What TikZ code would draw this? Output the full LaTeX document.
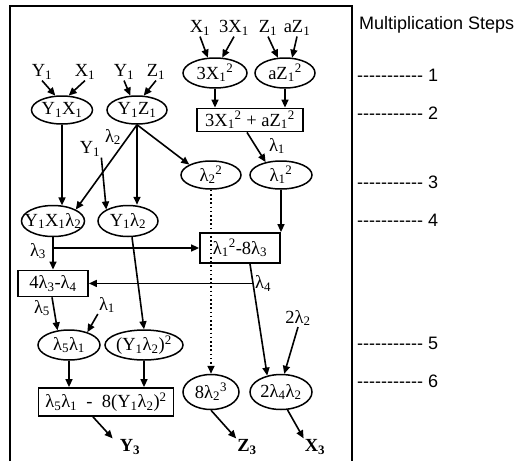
\documentclass[tikz,border=0pt]{standalone}
\usepackage{fontspec}
\setmainfont{Liberation Serif}
\newfontfamily\stepfont{Liberation Sans}
\usetikzlibrary{shapes.geometric,arrows.meta,calc}
\newcommand\mysb[1]{\textsubscript{#1}}
\newcommand\mysp[1]{\textsuperscript{#1}}
\newcommand\mydashes{-{}-{}-{}-{}-{}-{}-{}-{}-{}-{}-{}}
\begin{document}
\begin{tikzpicture}[x=1pt,y=-1pt,
  every node/.style={font=\fontsize{18.5}{20}\selectfont},
  ell/.style={ellipse,draw,line width=1.5pt,inner xsep=-12pt,inner ysep=-4pt,minimum height=28pt},
  bx/.style={rectangle,draw,line width=1.8pt,inner sep=2pt},
  lbl/.style={inner sep=1pt},
  stp/.style={inner sep=0pt,anchor=west,font=\stepfont\fontsize{18}{20}\selectfont},
  arr/.style={line width=1.6pt,-{Triangle[length=8pt,width=7pt]}},
  dotarr/.style={arr,dash pattern=on 1.6pt off 2.6pt}
]
\useasboundingbox (0,0) rectangle (517,461);
% frame
\draw[line width=1.5pt] (10,461) -- (10,6) -- (352,6) -- (352,461);

% top inputs
\node[lbl] (tx1) at (200,28) {X\mysb{1}};
\node[lbl] (t3x1) at (234,28) {3X\mysb{1}};
\node[lbl] (tz1) at (268,28) {Z\mysb{1}};
\node[lbl] (taz1) at (297,28) {aZ\mysb{1}};
\node[ell,minimum width=64pt,minimum height=30pt] (e3x) at (215,73) {3X\mysb{1}\mysp{2}};
\node[ell,minimum width=60pt,minimum height=30pt] (eaz) at (285,73) {aZ\mysb{1}\mysp{2}};

\node[lbl] (ty1a) at (42,72) {Y\mysb{1}};
\node[lbl] (tx1b) at (85,72) {X\mysb{1}};
\node[lbl] (ty1b) at (124,72) {Y\mysb{1}};
\node[lbl] (tz1b) at (156,72) {Z\mysb{1}};
\node[ell,minimum width=61pt] (yx) at (62,110) {Y\mysb{1}X\mysb{1}};
\node[ell,minimum width=60pt] (yz) at (137,110) {Y\mysb{1}Z\mysb{1}};
\node[bx,minimum width=106pt,minimum height=23pt] (b1) at (250,120) {3X\mysb{1}\mysp{2} + aZ\mysb{1}\mysp{2}};

\node[ell,minimum width=60pt] (l22) at (211,175) {λ\mysb{2}\mysp{2}};
\node[ell,minimum width=62pt] (l12) at (281,175) {λ\mysb{1}\mysp{2}};
\node[lbl] (tl2) at (113,137) {λ\mysb{2}};
\node[lbl] (ty1c) at (90,149) {Y\mysb{1}};
\node[lbl] (tl1a) at (277,146) {λ\mysb{1}};

\node[ell,minimum width=63pt,minimum height=31pt] (yxl) at (53,221) {Y\mysb{1}X\mysb{1}λ\mysb{2}};
\node[ell,minimum width=60pt,minimum height=31pt] (yl) at (128,221) {Y\mysb{1}λ\mysb{2}};
\node[bx,minimum width=80pt,minimum height=30pt] (b2) at (240,248) {λ\mysb{1}\mysp{2}-8λ\mysb{3}};
\node[lbl] (tl3) at (38,251) {λ\mysb{3}};

\node[ell,minimum width=56pt,minimum height=35pt] (e8) at (211,392) {8λ\mysb{2}\mysp{3}};
\node[ell,minimum width=62pt,minimum height=35pt] (e2l) at (281,392) {2λ\mysb{4}λ\mysb{2}};

\coordinate (b2s) at ([xshift=10pt]b2.south);
\coordinate (j4) at ($(b2s)!0.175!(e2l.130)$);
\coordinate (c53) at (53,0);
\node[bx,minimum width=70pt,minimum height=26pt] (b3) at (c53 |- j4) {4λ\mysb{3}-λ\mysb{4}};
\node[lbl,anchor=west] (tl4) at ([xshift=1pt]j4) {λ\mysb{4}};

\node[lbl] (tl5) at (42,308) {λ\mysb{5}};
\node[lbl] (tl1b) at (107,305) {λ\mysb{1}};
\node[lbl] (t2l2) at (298,318) {2λ\mysb{2}};
\node[ell,minimum width=62pt,minimum height=30pt] (l5l1) at (69,345) {λ\mysb{5}λ\mysb{1}};
\node[ell,minimum width=78pt,minimum height=30pt] (yl2) at (144,345) {(Y\mysb{1}λ\mysb{2})\mysp{2}};
\node[bx,minimum width=135pt,minimum height=28pt] (b4) at (106,402) {λ\mysb{5}λ\mysb{1}~~-~~8(Y\mysb{1}λ\mysb{2})\mysp{2}};

\node[lbl] (y3) at (130,447) {\textbf{Y\mysb{3}}};
\node[lbl] (z3) at (247,447) {\textbf{Z\mysb{3}}};
\node[lbl] (x3) at (315,447) {\textbf{X\mysb{3}}};

% steps column
\node[stp] (sh) at (359,25) {Multiplication Steps};
\node[stp] (s1) at (357,75) {\mydashes{} 1};
\node[stp] (s2) at (357,113) {\mydashes{} 2};
\node[stp] (s3) at (357,182) {\mydashes{} 3};
\node[stp] (s4) at (357,220) {\mydashes{} 4};
\node[stp] (s5) at (357,343) {\mydashes{} 5};
\node[stp] (s6) at (357,381) {\mydashes{} 6};

% connectors
\draw[arr] (tx1.south) -- (e3x.115);
\draw[arr] (t3x1.south) -- (e3x.65);
\draw[arr] (tz1.south) -- (eaz.115);
\draw[arr] (taz1.south) -- (eaz.65);
\draw[arr] (ty1a.south) -- (yx.115);
\draw[arr] (tx1b.south) -- (yx.65);
\draw[arr] (ty1b.south) -- (yz.115);
\draw[arr] (tz1b.south) -- (yz.65);
\draw[arr] (e3x.south) -- (e3x.south |- b1.north);
\draw[arr] (eaz.south) -- (eaz.south |- b1.north);
\draw[arr] ([xshift=-3pt]b1.south) -- (l12.140);
\draw[arr] (yx.south) -- (yxl.60);
\draw[arr] (yz.south) -- (yxl.north east);
\draw[arr] (yz.south) -- (yz.south |- yl.north);
\draw[arr] (yz.south) -- (l22.north west);
\draw[arr] (ty1c.south east) -- (yl.north west);
\draw[arr] (l12.south) -- (l12.south |- b2.north);
\draw[dotarr] (l22.south) -- (e8.north);
\draw[arr] (yxl.south) -- (yxl.south |- b3.north);
\draw[arr] (yxl.south |- b2.west) -- (b2.west);
\draw[arr] (b2s) -- (e2l.130);
\draw[arr] (j4) -- (b3.east);
\draw[arr] ([xshift=-1pt]b3.south) -- (l5l1.128);
\draw[arr] (tl1b.south west) -- (l5l1.35);
\draw[arr] ([xshift=4pt]yl.south) -- (yl2.north);
\draw[arr] (t2l2.south) -- (e2l.80);
\draw[arr] (l5l1.south) -- (l5l1.south |- b4.north);
\draw[arr] (yl2.south) -- (yl2.south |- b4.north);
\draw[arr] ([xshift=-13pt]b4.south) -- ([xshift=-6pt]y3.north west);
\draw[arr] (e8.south) -- (z3.north west);
\draw[arr] (e2l.-70) -- (x3.north west);
\end{tikzpicture}
\end{document}
